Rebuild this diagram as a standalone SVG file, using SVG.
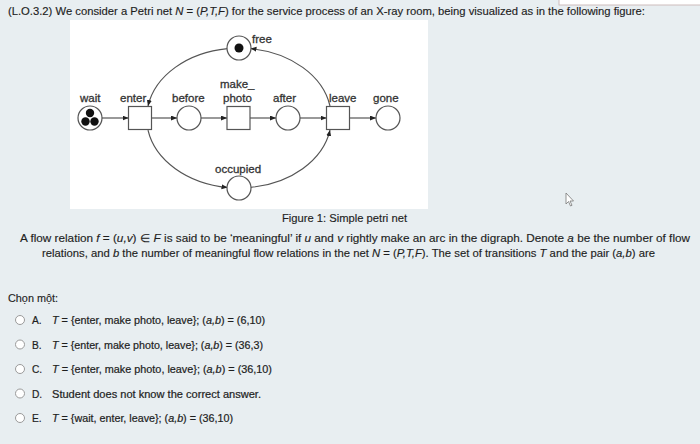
<svg xmlns="http://www.w3.org/2000/svg" width="700" height="444" viewBox="0 0 700 444">
<style>
.q{font-family:"Liberation Sans",Arial,sans-serif;font-size:11px;fill:#1e1e1e;stroke:#1e1e1e;stroke-width:0.15}
.o{font-family:"Liberation Sans",Arial,sans-serif;font-size:10.2px;fill:#1e1e1e;stroke:#1e1e1e;stroke-width:0.2}
.lbl{font-family:"Liberation Sans",Arial,sans-serif;font-size:11.5px;fill:#333;stroke:#333;stroke-width:0.3}
.pl{fill:#fff;stroke:#555;stroke-width:1.2}
.tr{fill:#fff;stroke:#555;stroke-width:1.2}
.tok{fill:#111}
.arc{fill:none;stroke:#555;stroke-width:1.2;marker-end:url(#ah)}
.rad{fill:#fff;stroke:#9a9a9a;stroke-width:1}
</style>
<defs>
<marker id="ah" markerUnits="userSpaceOnUse" markerWidth="7" markerHeight="6" refX="6" refY="2.5" orient="auto">
<path d="M0,0 L6,2.5 L0,5 z" fill="#222"/>
</marker>
</defs>
<rect x="0" y="0" width="700" height="444" fill="#e8eef1"/>
<rect x="559" y="-5" width="150" height="10" fill="#fff" stroke="#cdbcbc" stroke-width="1"/>
<rect x="70" y="20" width="358" height="189" fill="#fff"/>

<text class="q" x="8" y="15" textLength="637" lengthAdjust="spacingAndGlyphs">(L.O.3.2) We consider a Petri net <tspan font-style="italic">N</tspan> = (<tspan font-style="italic">P,T,F</tspan>) for the service process of an X-ray room, being visualized as in the following figure:</text>

<g id="connectors">
<path class="arc" d="M102,118 L128.5,118"/>
<path class="arc" d="M151.5,118 L177,118"/>
<path class="arc" d="M201,118 L227,118"/>
<path class="arc" d="M250,118 L276,118"/>
<path class="arc" d="M300,118 L326.5,118"/>
<path class="arc" d="M349.5,118 L376,118"/>
<path class="arc" d="M227.5,48.6 A92.4 70 0 0 0 148,106"/>
<path class="arc" d="M330,106 A92.4 70 0 0 0 250.5,48.6"/>
<path class="arc" d="M148,130.1 A92.4 70 0 0 0 227.5,187.4"/>
<path class="arc" d="M250.5,187.4 A92.4 70 0 0 0 330,130.1"/>
</g>

<g id="wait">
<circle class="pl" cx="90" cy="118" r="12"/>
<circle class="tok" cx="90" cy="113" r="4.2"/>
<circle class="tok" cx="85.5" cy="121.5" r="4.2"/>
<circle class="tok" cx="94.5" cy="121.5" r="4.2"/>
<text class="lbl" x="80" y="102">wait</text>
</g>
<g id="enter">
<rect class="tr" x="128.5" y="106.5" width="23" height="23"/>
<text class="lbl" x="120" y="102">enter</text>
</g>
<g id="before">
<circle class="pl" cx="189" cy="118" r="12"/>
<text class="lbl" x="172" y="102">before</text>
</g>
<g id="make_photo">
<rect class="tr" x="227" y="106.5" width="23" height="23"/>
<text class="lbl" x="220" y="88">make_</text>
<text class="lbl" x="223" y="102">photo</text>
</g>
<g id="after">
<circle class="pl" cx="288" cy="118" r="12"/>
<text class="lbl" x="273" y="102">after</text>
</g>
<g id="leave">
<rect class="tr" x="326.5" y="106.5" width="23" height="23"/>
<text class="lbl" x="329" y="102">leave</text>
</g>
<g id="gone">
<circle class="pl" cx="388" cy="118" r="12"/>
<text class="lbl" x="373" y="102">gone</text>
</g>
<g id="free">
<circle class="pl" cx="239" cy="48" r="12"/>
<circle class="tok" cx="239" cy="48" r="4.5"/>
<text class="lbl" x="252" y="43">free</text>
</g>
<g id="occupied">
<circle class="pl" cx="239" cy="188" r="12"/>
<text class="lbl" x="215" y="173">occupied</text>
</g>

<text class="q" x="282" y="222" textLength="125" lengthAdjust="spacingAndGlyphs">Figure 1: Simple petri net</text>

<text class="q" x="20" y="242" textLength="670" lengthAdjust="spacingAndGlyphs">A flow relation <tspan font-style="italic">f</tspan> = (<tspan font-style="italic">u,v</tspan>) ∈ <tspan font-style="italic">F</tspan> is said to be ‘meaningful’ if <tspan font-style="italic">u</tspan> and <tspan font-style="italic">v</tspan> rightly make an arc in the digraph. Denote <tspan font-style="italic">a</tspan> be the number of flow</text>
<text class="q" x="42" y="257" textLength="613" lengthAdjust="spacingAndGlyphs">relations, and <tspan font-style="italic">b</tspan> the number of meaningful flow relations in the net <tspan font-style="italic">N</tspan> = (<tspan font-style="italic">P,T,F</tspan>). The set of transitions <tspan font-style="italic">T</tspan> and the pair (<tspan font-style="italic">a,b</tspan>) are</text>

<text class="q" x="8" y="302" textLength="50" lengthAdjust="spacingAndGlyphs">Chọn một:</text>

<g id="optA">
<circle class="rad" cx="20" cy="320" r="4.5"/>
<text class="o" x="32" y="324">A.</text>
<text class="o" x="52" y="324" textLength="213" lengthAdjust="spacingAndGlyphs"><tspan font-style="italic">T</tspan> = {enter, make photo, leave}; (<tspan font-style="italic">a,b</tspan>) = (6,10)</text>
</g>
<g id="optB">
<circle class="rad" cx="20" cy="344.5" r="4.5"/>
<text class="o" x="32" y="348.5">B.</text>
<text class="o" x="52" y="348.5" textLength="211" lengthAdjust="spacingAndGlyphs"><tspan font-style="italic">T</tspan> = {enter, make photo, leave}; (<tspan font-style="italic">a,b</tspan>) = (36,3)</text>
</g>
<g id="optC">
<circle class="rad" cx="20" cy="369" r="4.5"/>
<text class="o" x="32" y="373">C.</text>
<text class="o" x="52" y="373" textLength="220" lengthAdjust="spacingAndGlyphs"><tspan font-style="italic">T</tspan> = {enter, make photo, leave}; (<tspan font-style="italic">a,b</tspan>) = (36,10)</text>
</g>
<g id="optD">
<circle class="rad" cx="20" cy="393.5" r="4.5"/>
<text class="o" x="32" y="397.5">D.</text>
<text class="o" x="52" y="397.5" textLength="209" lengthAdjust="spacingAndGlyphs">Student does not know the correct answer.</text>
</g>
<g id="optE">
<circle class="rad" cx="20" cy="418" r="4.5"/>
<text class="o" x="32" y="422">E.</text>
<text class="o" x="52" y="422" textLength="181" lengthAdjust="spacingAndGlyphs"><tspan font-style="italic">T</tspan> = {wait, enter, leave}; (<tspan font-style="italic">a,b</tspan>) = (36,10)</text>
</g>

<path d="M566,193 L566,204 L568.5,201.5 L570.5,206 L572,205.3 L570,201 L573.5,201 Z" fill="#fff" stroke="#777" stroke-width="0.8"/>
</svg>
